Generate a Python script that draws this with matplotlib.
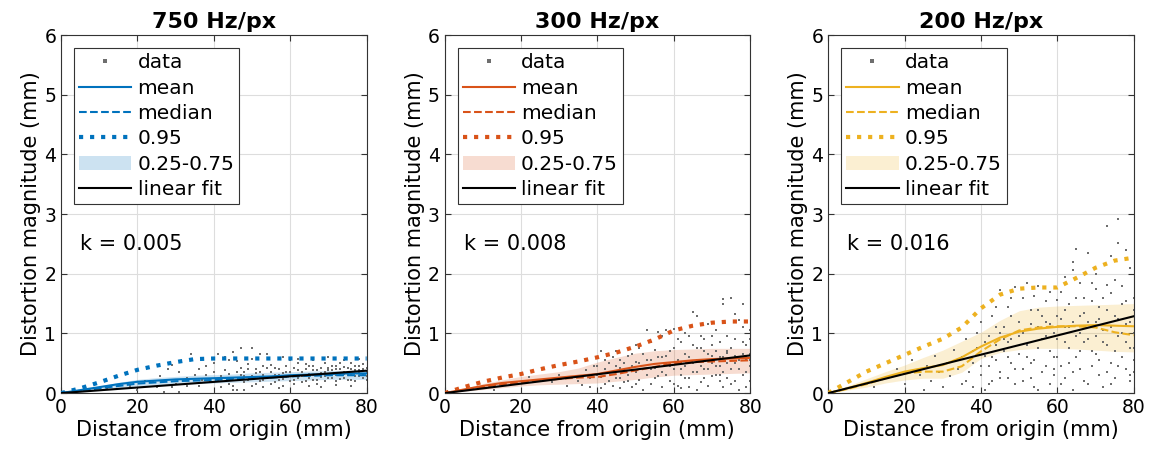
import numpy as np
import matplotlib
matplotlib.use("Agg")
import matplotlib.pyplot as plt
from matplotlib.patches import Patch
from matplotlib.lines import Line2D

titles = ["750 Hz/px", "300 Hz/px", "200 Hz/px"]
colors = ["#0072BD", "#D95319", "#EDB120"]
slopes = [0.0047, 0.0079, 0.0161]

x_grid = [0, 5, 10, 15, 20, 25, 30, 35, 40, 45, 50, 55, 60, 65, 70, 75, 80]

# panel 1: 750 Hz/px
q95_1 = [0, 0.08, 0.18, 0.29, 0.39, 0.46, 0.52, 0.57, 0.58, 0.58, 0.58, 0.58, 0.58, 0.58, 0.58, 0.58, 0.58]
mean_1 = [0, 0.05, 0.1, 0.15, 0.19, 0.21, 0.23, 0.24, 0.25, 0.26, 0.27, 0.28, 0.3, 0.31, 0.32, 0.33, 0.33]
median_1 = [0, 0.04, 0.08, 0.12, 0.16, 0.18, 0.2, 0.21, 0.22, 0.24, 0.25, 0.26, 0.28, 0.29, 0.3, 0.3, 0.3]
low_1 = [0, 0.03, 0.06, 0.09, 0.12, 0.14, 0.15, 0.16, 0.17, 0.18, 0.19, 0.2, 0.21, 0.22, 0.23, 0.23, 0.23]
high_1 = [0, 0.06, 0.12, 0.18, 0.23, 0.26, 0.28, 0.3, 0.31, 0.32, 0.34, 0.35, 0.36, 0.37, 0.38, 0.38, 0.38]
pts_x_1 = [12, 18, 22, 24, 26, 27, 28, 29, 30, 31, 31, 33, 34, 35, 36, 37, 38, 39,
           40, 41, 41, 42, 42, 43, 43, 44, 44, 45, 45, 46, 46, 47, 47, 47, 48, 48, 49, 49, 50, 50, 50,
           51, 51, 52, 52, 53, 53, 54, 54, 55, 55, 55,
           56, 57, 57, 58, 58, 59, 59, 60, 60, 61, 61, 62, 62, 63, 63, 64, 64, 65, 65, 66, 66, 67, 67,
           68, 68, 69, 69, 70, 70, 71, 71, 72, 72, 73, 73, 74, 74, 75, 75, 76, 76, 77, 77, 78, 78, 79, 79, 80, 80,
           43, 45, 46, 48, 49, 51, 52, 53, 54, 56, 56, 57, 58, 59, 60, 60, 61, 62, 63, 64, 64, 65, 66, 66,
           67, 67, 68, 69, 69, 70, 70, 71, 71, 72, 72, 73, 73, 74, 74, 75, 75, 76, 76, 77, 77, 78, 78, 79, 79,
           80, 80, 62, 66, 70, 74, 78, 58, 50, 44, 40, 38, 36, 33, 29, 25, 20, 65, 68, 72, 76, 61, 57, 53, 48, 45]
pts_y_1 = [0.08, 0.12, 0.2, 0.2, 0.28, 0.02, 0.41, 0.47, 0.15, 0.02, 0.36, 0.25, 0.66, 0.3, 0.12, 0.22, 0.45, 0.18,
           0.35, 0.66, 0.2, 0.28, 0.1, 0.61, 0.38, 0.15, 0.32, 0.69, 0.25, 0.54, 0.05, 0.75, 0.3, 0.42, 0.18, 0.36, 0.22, 0.48, 0.75, 0.28, 0.12,
           0.33, 0.4, 0.66, 0.2, 0.3, 0.45, 0.65, 0.25, 0.47, 0.35, 0.15,
           0.3, 0.22, 0.4, 0.33, 0.12, 0.27, 0.45, 0.35, 0.2, 0.3, 0.42, 0.25, 0.5, 0.35, 0.18, 0.28, 0.4, 0.32, 0.45, 0.22, 0.38, 0.3, 0.15,
           0.42, 0.27, 0.35, 0.5, 0.25, 0.38, 0.32, 0.45, 0.2, 0.4, 0.5, 0.3, 0.35, 0.25, 0.42, 0.3, 0.51, 0.22, 0.38, 0.28, 0.45, 0.33, 0.25, 0.4, 0.35, 0.28,
           0.25, 0.12, 0.35, 0.28, 0.4, 0.15, 0.36, 0.22, 0.42, 0.18, 0.42, 0.3, 0.24, 0.36, 0.28, 0.55, 0.22, 0.38, 0.28, 0.2, 0.48, 0.26, 0.3, 0.45,
           0.38, 0.22, 0.33, 0.2, 0.28, 0.42, 0.32, 0.25, 0.38, 0.3, 0.46, 0.24, 0.4, 0.32, 0.44, 0.22, 0.36, 0.3, 0.4, 0.2, 0.46, 0.28, 0.38, 0.32, 0.48,
           0.22, 0.42, 0.58, 0.56, 0.6, 0.55, 0.57, 0.6, 0.58, 0.55, 0.5, 0.3, 0.4, 0.12, 0.1, 0.1, 0.05, 0.12, 0.1, 0.13, 0.12, 0.15, 0.08, 0.1, 0.05, 0.05]

# panel 2: 300 Hz/px
q95_2 = [0, 0.1, 0.19, 0.26, 0.32, 0.4, 0.47, 0.53, 0.6, 0.68, 0.78, 0.9, 1.05, 1.13, 1.18, 1.2, 1.2]
mean_2 = [0, 0.06, 0.12, 0.17, 0.2, 0.23, 0.26, 0.29, 0.32, 0.38, 0.44, 0.49, 0.52, 0.55, 0.57, 0.58, 0.59]
median_2 = [0, 0.05, 0.1, 0.15, 0.18, 0.21, 0.24, 0.26, 0.27, 0.32, 0.38, 0.44, 0.5, 0.52, 0.53, 0.54, 0.55]
low_2 = [0, 0.03, 0.06, 0.09, 0.12, 0.14, 0.15, 0.16, 0.17, 0.2, 0.23, 0.27, 0.3, 0.31, 0.32, 0.33, 0.34]
high_2 = [0, 0.08, 0.16, 0.22, 0.28, 0.32, 0.36, 0.42, 0.52, 0.6, 0.67, 0.71, 0.73, 0.74, 0.75, 0.75, 0.75]
pts_x_2 = [13, 18, 22, 25, 28, 30, 32, 35, 36, 37, 38, 39, 40, 40, 41, 41, 42, 42, 43, 43, 44, 44, 45, 45,
           46, 46, 47, 47, 48, 48, 49, 49, 50, 50, 51, 51, 52, 52, 53, 53, 54, 54, 55, 55, 56, 56, 57, 57,
           58, 58, 59, 59, 60, 60, 61, 61, 62, 62, 63, 63, 64, 64, 65, 65, 66, 66, 67, 67, 68, 68, 69, 69,
           70, 70, 71, 71, 72, 72, 73, 73, 73, 74, 74, 75, 75, 76, 76, 77, 77, 78, 78, 78, 79, 79, 80, 80, 80,
           38, 40, 41, 42, 43, 44, 45, 46, 47, 48, 49, 50, 51, 52, 53, 54, 55, 56, 57, 57, 58, 59, 60, 60,
           61, 62, 62, 63, 63, 64, 64, 65, 65, 66, 66, 67, 67, 68, 68, 69, 69, 70, 70, 71, 71, 72, 72, 73, 73,
           74, 74, 75, 75, 76, 76, 77, 77, 78, 78, 79, 79, 80, 80, 80, 66, 70, 74, 58, 54, 50, 46, 62, 68, 72, 76, 79]
pts_y_2 = [0.05, 0.15, 0.27, 0.22, 0.19, 0.3, 0.12, 0.2, 0.14, 0.38, 0.25, 0.45, 0.6, 0.3, 0.27, 0.08, 0.55, 0.4, 0.2, 0.5, 0.35, 0.12, 0.7, 0.45,
           0.25, 0.55, 0.38, 0.18, 0.62, 0.3, 0.45, 0.1, 0.8, 0.35, 0.5, 0.22, 0.65, 0.4, 1.06, 0.3, 0.55, 0.15, 0.72, 0.42, 1.02, 0.28, 0.6, 0.35,
           1.06, 0.48, 0.2, 0.7, 1.08, 0.4, 0.55, 0.12, 0.85, 0.3, 0.65, 0.45, 0.95, 0.25, 1.36, 0.5, 1.29, 0.35, 0.75, 0.18, 0.9, 0.55, 0.4, 0.65,
           0.28, 0.8, 1.05, 0.45, 0.6, 0.2, 1.58, 1.49, 0.35, 0.7, 0.5, 1.6, 0.15, 1.32, 0.62, 1.23, 0.4, 1.49, 0.85, 0.3, 0.55, 0.1, 0.9, 0.45, 0.65,
           0.1, 0.45, 0.7, 0.15, 0.35, 0.6, 0.25, 0.08, 0.5, 0.2, 0.65, 0.15, 0.75, 0.05, 0.55, 0.85, 0.25, 0.6, 0.1, 0.95, 0.3, 0.45, 0.75, 0.15,
           0.9, 0.5, 0.08, 1.0, 0.25, 0.6, 0.1, 0.8, 0.35, 0.55, 0.05, 0.95, 0.45, 0.25, 0.7, 1.15, 0.12, 0.5, 0.95, 0.3, 0.7, 0.85, 0.45, 0.1, 0.6,
           0.95, 0.25, 0.75, 0.4, 0.2, 0.9, 0.55, 0.05, 0.65, 1.1, 0.35, 0.8, 0.2, 0.55, 1.05, 0.75, 0.62, 0.68, 0.62, 0.4, 0.52, 0.42, 0.4, 0.4, 0.3, 0.5, 0.6]

# panel 3: 200 Hz/px
q95_3 = [0, 0.18, 0.36, 0.5, 0.64, 0.78, 0.91, 1.1, 1.42, 1.65, 1.75, 1.77, 1.77, 1.93, 2.1, 2.22, 2.27]
mean_3 = [0, 0.08, 0.17, 0.27, 0.36, 0.42, 0.47, 0.6, 0.78, 0.93, 1.03, 1.08, 1.11, 1.13, 1.14, 1.13, 1.12]
median_3 = [0, 0.07, 0.15, 0.25, 0.33, 0.36, 0.36, 0.45, 0.7, 0.9, 1.05, 1.1, 1.12, 1.12, 1.1, 1.02, 0.97]
low_3 = [0, 0.05, 0.1, 0.17, 0.22, 0.25, 0.25, 0.35, 0.58, 0.68, 0.73, 0.75, 0.75, 0.74, 0.72, 0.7, 0.69]
high_3 = [0, 0.12, 0.24, 0.36, 0.47, 0.6, 0.72, 0.87, 1.02, 1.22, 1.38, 1.44, 1.46, 1.47, 1.48, 1.49, 1.5]
pts_x_3 = [12, 15, 18, 20, 22, 24, 25, 26, 27, 28, 29, 30, 31, 32, 33, 34, 35, 35,
           36, 37, 38, 38, 39, 40, 40, 41, 41, 42, 42, 43, 43, 44, 44, 45, 45, 46, 46, 47, 47, 48, 48, 49, 49, 50, 50,
           51, 51, 52, 52, 53, 53, 54, 54, 55, 55, 56, 56, 57, 57, 58, 58, 59, 59, 60, 60, 61, 61, 62, 62, 63, 63,
           64, 64, 64, 65, 65, 66, 66, 67, 67, 68, 68, 69, 69, 70, 70, 71, 71, 72, 72, 73, 73, 73, 74, 74, 75, 75,
           76, 76, 76, 77, 77, 78, 78, 79, 79, 79, 80, 80, 80,
           36, 38, 39, 40, 41, 42, 43, 44, 45, 46, 47, 48, 49, 50, 51, 51, 52, 53, 54, 55, 55, 56, 57, 57, 58, 58,
           59, 60, 60, 61, 61, 62, 62, 63, 63, 64, 64, 65, 65, 66, 66, 67, 67, 68, 68, 69, 69, 70, 70, 71, 71,
           72, 72, 73, 73, 74, 74, 75, 75, 76, 76, 77, 77, 78, 78, 79, 79, 80, 80, 80, 66, 62, 70, 74, 78, 55, 48, 44,
           59, 53, 45, 47]
pts_y_3 = [0.1, 0.25, 0.4, 0.15, 0.55, 0.3, 0.05, 0.45, 0.2, 0.62, 0.35, 0.1, 0.5, 0.28, 0.72, 0.4, 0.15, 0.6,
           0.9, 0.35, 0.5, 0.1, 0.75, 1.2, 0.3, 0.62, 0.05, 0.95, 0.45, 1.3, 0.2, 0.8, 0.55, 1.73, 0.35, 1.1, 0.7, 0.25, 1.45, 0.9, 0.5, 1.78, 0.15, 1.2, 0.65,
           0.4, 1.0, 1.85, 0.8, 1.4, 0.25, 1.62, 0.55, 1.1, 0.05, 0.9, 1.3, 0.45, 1.55, 0.7, 1.15, 0.3, 1.0, 1.56, 0.6, 1.25, 0.15, 0.85, 1.4, 0.5, 1.1,
           2.2, 2.06, 0.35, 2.41, 0.95, 1.3, 0.7, 0.2, 1.6, 2.34, 0.9, 1.84, 0.45, 1.2, 0.65, 1.45, 0.3, 1.05, 0.1, 2.8, 1.81, 0.8, 1.67, 0.5, 1.3, 0.25,
           2.91, 2.52, 0.95, 1.5, 0.6, 1.15, 0.4, 2.09, 0.75, 0.2, 1.4, 1.0, 0.55,
           0.2, 0.7, 1.0, 0.45, 0.85, 0.15, 0.6, 1.1, 0.25, 0.9, 0.6, 1.3, 0.4, 0.95, 1.6, 0.2, 0.6, 1.15, 0.1, 1.4, 0.75, 0.35, 1.2, 0.95, 1.7, 0.15,
           0.6, 1.3, 0.9, 0.45, 1.7, 1.1, 0.25, 1.5, 0.75, 1.2, 0.05, 0.6, 1.6, 1.0, 0.4, 1.35, 0.85, 1.2, 0.15, 1.55, 0.7, 0.95, 1.75, 0.55, 1.25,
           1.6, 0.85, 0.35, 1.4, 1.1, 0.15, 1.9, 0.7, 1.25, 0.45, 1.8, 1.0, 0.85, 1.55, 0.3, 1.2, 1.6, 0.75, 0.35, 1.85, 1.95, 2.0, 2.3, 2.4, 1.8, 1.6, 1.45,
           0.4, 0.5, 1.0, 0.85]

panels = [
    (q95_1, mean_1, median_1, low_1, high_1, pts_x_1, pts_y_1),
    (q95_2, mean_2, median_2, low_2, high_2, pts_x_2, pts_y_2),
    (q95_3, mean_3, median_3, low_3, high_3, pts_x_3, pts_y_3),
]

plt.rcParams['font.family'] = ['DejaVu Sans']
fig, axes = plt.subplots(1, 3, figsize=(11.51, 4.55), dpi=100)
fig.subplots_adjust(left=0.053, right=0.985, bottom=0.136, top=0.923, wspace=0.255)

for ax, title, col, k, data in zip(axes, titles, colors, slopes, panels):
    q95, mean, median, low, high, px, py = data
    ax.plot(px, py, 's', color='#6e6e6e', markersize=2.0, markeredgewidth=0, zorder=2)
    ax.fill_between(x_grid, low, high, color=col, alpha=0.2, linewidth=0, zorder=1)
    ax.plot(x_grid, mean, '-', color=col, lw=1.5, zorder=3)
    ax.plot(x_grid, median, '--', color=col, lw=1.5, zorder=3)
    ax.plot(x_grid, q95, ':', color=col, lw=3, zorder=3)
    fx = np.array([0, 80])
    ax.plot(fx, k * fx, '-', color='black', lw=1.5, zorder=4)

    ax.set_xlim(0, 80)
    ax.set_ylim(0, 6)
    ax.set_xticks([0, 20, 40, 60, 80])
    ax.set_yticks([0, 1, 2, 3, 4, 5, 6])
    ax.grid(True, color='#dddddd', lw=0.8)
    ax.set_axisbelow(True)
    ax.tick_params(direction='in', top=True, right=True, labelsize=13.5, length=4, color='#333333')
    for s in ax.spines.values():
        s.set_color('#333333')
    ax.set_title(title, fontsize=16, fontweight='bold', pad=5)
    ax.set_xlabel('Distance from origin (mm)', fontsize=15, labelpad=2)
    ax.set_ylabel('Distortion magnitude (mm)', fontsize=15, labelpad=2)
    ax.text(5, 2.5, f"k = {k:.3f}", fontsize=15, va='center')

    handles = [
        Line2D([], [], ls='none', marker='s', color='#6e6e6e', markersize=2.2, markeredgewidth=0),
        Line2D([], [], color=col, lw=1.5),
        Line2D([], [], color=col, lw=1.5, ls='--'),
        Line2D([], [], color=col, lw=3, ls=':'),
        Patch(facecolor=col, alpha=0.2, edgecolor='none'),
        Line2D([], [], color='black', lw=1.5),
    ]
    labels = ['data', 'mean', 'median', '0.95', '0.25-0.75', 'linear fit']
    leg = ax.legend(handles, labels, loc='upper left', fontsize=14.5, frameon=True, fancybox=False,
                    edgecolor='#333333', framealpha=1, borderpad=0.25, labelspacing=0.32,
                    handlelength=2.6, handletextpad=0.3, borderaxespad=0.65)
    leg.get_frame().set_linewidth(0.8)

fig.savefig('out.png', dpi=100)
